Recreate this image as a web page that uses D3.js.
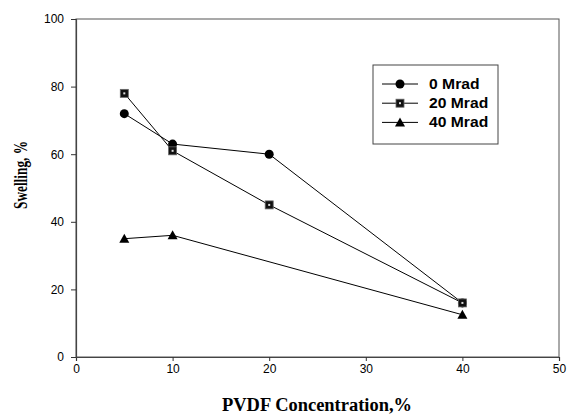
<!DOCTYPE html>
<html>
<head>
<meta charset="utf-8">
<script src="https://cdn.jsdelivr.net/npm/d3@7"></script>
<style>
  body { margin: 0; background: #fff; }
  svg { display: block; }
  .tick text { font-family: Arial, "Liberation Sans", sans-serif; font-size: 12px; fill: #000; }
</style>
</head>
<body>
<svg id="chart"></svg>
<script>
// Data
const concentration0 = [5, 10, 20, 40]
const swelling0 = [72, 63, 60, 16]
const concentration20 = [5, 10, 20, 40]
const swelling20 = [78, 61, 45, 16]
const concentration40 = [5, 10, 40]
const swelling40 = [35, 36, 12.5]
const seriesNames = ["0 Mrad", "20 Mrad", "40 Mrad"]
const xTicks = [0, 10, 20, 30, 40, 50]
const yTicks = [0, 20, 40, 60, 80, 100]

const width = 568, height = 414
const margin = { left: 76, right: 9, top: 19, bottom: 57 }

const svg = d3.select("#chart").attr("width", width).attr("height", height)

const x = d3.scaleLinear().domain([0, 50]).range([margin.left, width - margin.right])
const y = d3.scaleLinear().domain([0, 100]).range([height - margin.bottom, margin.top])

// frame
svg.append("rect")
    .attr("x", x(0)).attr("y", y(100))
    .attr("width", x(50) - x(0)).attr("height", y(0) - y(100))
    .attr("fill", "none").attr("stroke", "#555").attr("stroke-width", 1)

svg.append("g")
    .attr("transform", `translate(0,${y(0)})`)
    .call(d3.axisBottom(x).tickValues(xTicks).tickSize(4).tickPadding(3))
svg.append("g")
    .attr("transform", `translate(${x(0)},0)`)
    .call(d3.axisLeft(y).tickValues(yTicks).tickSize(5).tickPadding(7))
svg.selectAll(".domain").attr("stroke", "#444").attr("stroke-width", 1.2)
svg.selectAll(".tick line").attr("stroke", "#333")

// axis titles
svg.append("text")
    .attr("x", 317).attr("y", 411)
    .attr("text-anchor", "middle")
    .attr("textLength", 190).attr("lengthAdjust", "spacingAndGlyphs")
    .style("font-family", "'Times New Roman', 'Liberation Serif', serif")
    .style("font-weight", "bold").style("font-size", "18px")
    .text("PVDF Concentration,%")
svg.append("text")
    .attr("transform", "translate(27,175) rotate(-90)")
    .attr("text-anchor", "middle")
    .attr("textLength", 68).attr("lengthAdjust", "spacingAndGlyphs")
    .style("font-family", "'Times New Roman', 'Liberation Serif', serif")
    .style("font-weight", "bold").style("font-size", "18px")
    .text("Swelling, %")

const series = [
  { name: seriesNames[0], xs: concentration0, ys: swelling0, shape: "circle" },
  { name: seriesNames[1], xs: concentration20, ys: swelling20, shape: "square" },
  { name: seriesNames[2], xs: concentration40, ys: swelling40, shape: "triangle" }
]

const line = d3.line().x(d => x(d[0])).y(d => y(d[1]))

function drawMarker(g, shape, cx, cy) {
  if (shape === "circle") {
    g.append("circle").attr("cx", cx).attr("cy", cy).attr("r", 4.5).attr("fill", "#000")
  } else if (shape === "square") {
    g.append("rect").attr("x", cx - 4).attr("y", cy - 4).attr("width", 8).attr("height", 8)
        .attr("fill", "#111").attr("stroke", "#666").attr("stroke-width", 0.8)
    g.append("rect").attr("x", cx - 1).attr("y", cy - 1).attr("width", 2).attr("height", 2)
        .attr("fill", "#ddd")
  } else {
    g.append("path").attr("transform", `translate(${cx},${cy})`)
        .attr("d", "M0,-5L5,4L-5,4Z").attr("fill", "#000")
  }
}

series.forEach(s => {
  const pts = s.xs.map((v, i) => [v, s.ys[i]])
  svg.append("path").datum(pts)
      .attr("d", line).attr("fill", "none").attr("stroke", "#000").attr("stroke-width", 1)
  const g = svg.append("g")
  pts.forEach(p => drawMarker(g, s.shape, x(p[0]), y(p[1])))
})

// legend
const legend = svg.append("g")
legend.append("rect")
    .attr("x", 373).attr("y", 65).attr("width", 125).attr("height", 79)
    .attr("fill", "#fff").attr("stroke", "#444").attr("stroke-width", 1)
series.forEach((s, i) => {
  const ly = 84 + i * 19.2
  legend.append("line").attr("x1", 382).attr("x2", 418).attr("y1", ly).attr("y2", ly)
      .attr("stroke", "#000").attr("stroke-width", 1)
  drawMarker(legend, s.shape, 400, ly)
  legend.append("text")
      .attr("transform", `translate(429,${ly + 5}) scale(1.12,1)`)
      .style("font-family", "Arial, 'Liberation Sans', sans-serif")
      .style("font-weight", "bold").style("font-size", "14px")
      .text(s.name)
})
</script>
</body>
</html>
